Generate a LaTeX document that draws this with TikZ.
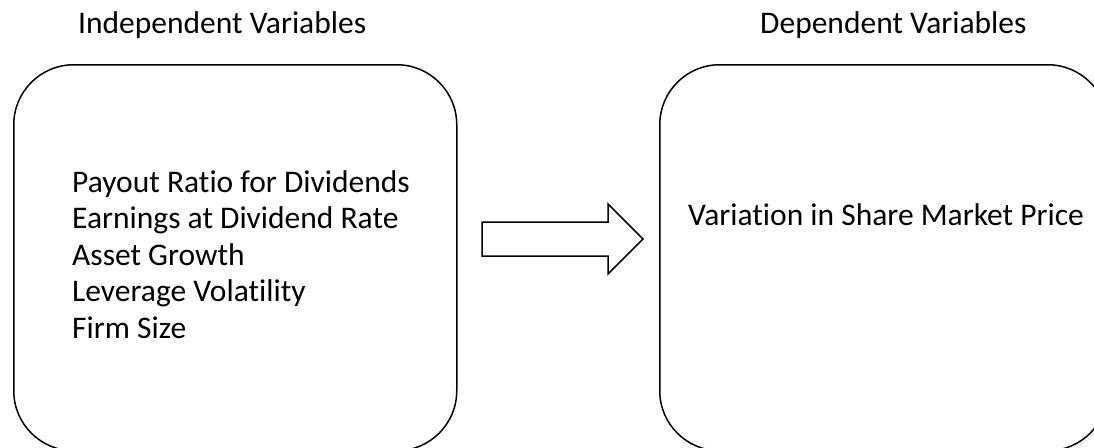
\documentclass[tikz,border=0pt]{standalone}
\usepackage{fontspec}
\setmainfont{Carlito}[Ligatures={NoCommon}]
\begin{document}
\begin{tikzpicture}[x=1pt,y=-1pt,
  box/.style={draw=black, line width=1.5pt, rounded corners=60pt, anchor=north west, inner sep=0pt},
  lbl/.style={font=\fontsize{31.5}{36.5}\selectfont, inner sep=0pt, anchor=base west},
  blockarrow/.style={draw=black, line width=1.5pt, fill=white, line join=miter}]
\useasboundingbox (0,0) rectangle (1094,447);
\clip (0,0) rectangle (1094,447);
% boxes
\node[box, minimum width=443pt, minimum height=386pt] (left) at (13,64) {};
\node[box, minimum width=448pt, minimum height=386pt] (right) at (659,64) {};
% titles
\node[lbl] (tleft) at (78,33) {Independent Variables};
\node[lbl] (tright) at (760,33) {Dependent Variables};
% list
\node[lbl] (l1) at (72,192) {Payout Ratio for Dividends};
\node[lbl] (l2) at (72,228.5) {Earnings at Dividend Rate};
\node[lbl] (l3) at (72,265) {Asset Growth};
\node[lbl] (l4) at (72,301.5) {Leverage Volatility};
\node[lbl] (l5) at (72,338) {Firm Size};
\node[lbl] (r1) at (688,225) {Variation in Share Market Price};
% block arrow
\draw[blockarrow] (482,222) -- (608,222) -- (608,204) -- (643,239) -- (608,274) -- (608,256) -- (482,256) -- cycle;
\end{tikzpicture}
\end{document}
